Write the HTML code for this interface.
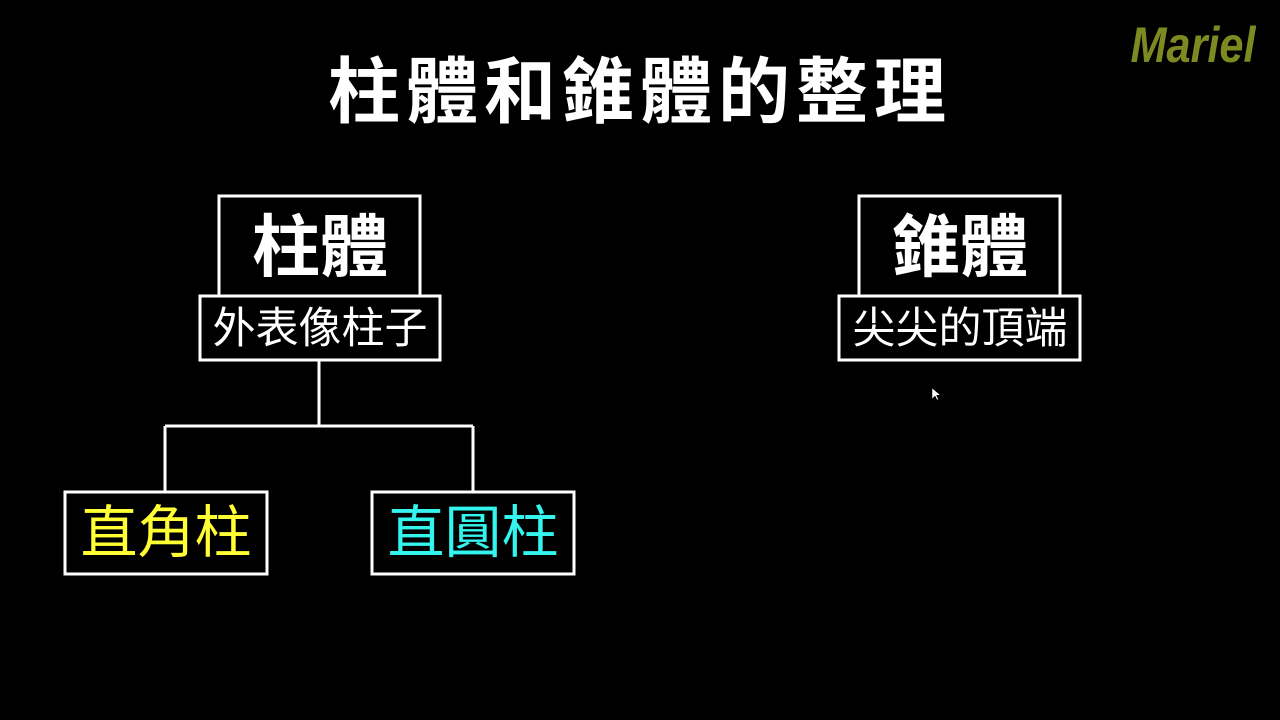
<!DOCTYPE html>
<html><head><meta charset="utf-8"><style>
html,body{margin:0;padding:0;background:#000;width:1280px;height:720px;overflow:hidden}
svg{display:block}
text{font-family:"Liberation Sans","Noto Sans CJK TC",sans-serif}
</style></head><body>
<svg width="1280" height="720" viewBox="0 0 1280 720">
<rect width="1280" height="720" fill="#000"/>
<text x="640" y="117" text-anchor="middle" font-size="72" font-weight="bold" letter-spacing="6" fill="#fff">柱體和錐體的整理</text>
<text x="1193" y="62" text-anchor="middle" font-size="50" font-family="Liberation Serif,serif" font-weight="bold" fill="#7d8a22" font-style="italic" textLength="125" lengthAdjust="spacingAndGlyphs">Mariel</text>
<g fill="none" stroke="#fff" stroke-width="3">
<rect x="219" y="196" width="201" height="100"/>
<rect x="200" y="296" width="240" height="64"/>
<rect x="859" y="196" width="201" height="100"/>
<rect x="839" y="296" width="241" height="64"/>
<path d="M319 360V426M165 426H473M165 426V492M473 426V492"/>
<rect x="65" y="492" width="202" height="82"/>
<rect x="372" y="492" width="202" height="82"/>
</g>
<g font-weight="bold" font-size="68" fill="#fff" text-anchor="middle">
<text x="320" y="271">柱體</text>
<text x="960" y="271">錐體</text>
</g>
<g font-size="43" fill="#fff" text-anchor="middle">
<text x="320" y="343">外表像柱子</text>
<text x="960" y="343">尖尖的頂端</text>
</g>
<text x="166" y="552" font-size="57" fill="#ffff33" text-anchor="middle">直角柱</text>
<text x="473" y="552" font-size="57" fill="#33f5ee" text-anchor="middle">直圓柱</text>
<path d="M932 388l0 11 3-3 2 4 1.5-.7-2-4 4 0z" fill="#fff" stroke="#000" stroke-width="0.5"/>
</svg>
</body></html>
